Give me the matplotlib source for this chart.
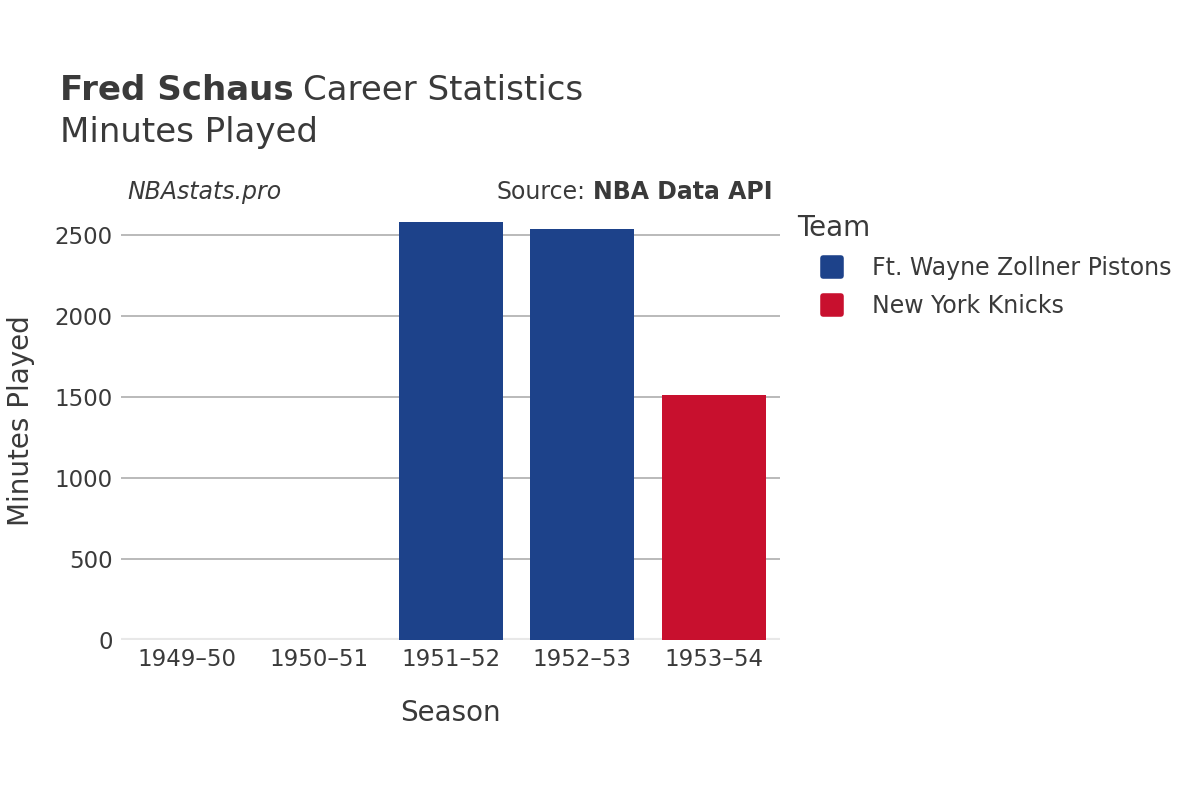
import matplotlib
matplotlib.use("Agg")
from matplotlib import pyplot as plt
from matplotlib.lines import Line2D
from matplotlib.markers import MarkerStyle
import numpy as np

seasons = ['1949–50', '1950–51', '1951–52', '1952–53', '1953–54']
minutes = [0, 0, 2578, 2537, 1512]
teams = [None, None, 'Ft. Wayne Zollner Pistons', 'Ft. Wayne Zollner Pistons', 'New York Knicks']
team_names = ['Ft. Wayne Zollner Pistons', 'New York Knicks']
team_colors = {'Ft. Wayne Zollner Pistons': '#1d428a', 'New York Knicks': '#c8102e'}
y_ticks = [0, 500, 1000, 1500, 2000, 2500]

txt = '#3a3a3a'
plt.rcParams['font.family'] = ['DejaVu Sans']

fig = plt.figure(figsize=(12, 8), dpi=100)
ax = fig.add_axes([0.101, 0.2, 0.549, 0.549])

x = np.arange(len(seasons))
for i in range(len(seasons)):
    if teams[i] is None:
        continue
    ax.bar(x[i], minutes[i], width=0.79, color=team_colors[teams[i]], zorder=3)

ax.set_xlim(-0.5, len(seasons) - 0.5)
ax.set_ylim(0, 2710)
ax.set_yticks(y_ticks)
ax.set_xticks(x)
ax.set_xticklabels(seasons)
ax.tick_params(axis='both', length=0, labelsize=16.5, colors=txt, pad=6)
ax.grid(axis='y', color='#b4b4b4', linewidth=1.3, zorder=0)
ax.axhline(0, color='#e8e8e8', linewidth=3, zorder=2)
for s in ax.spines.values():
    s.set_visible(False)

ax.set_xlabel('Season', fontsize=20, color=txt, labelpad=20)
ax.set_ylabel('Minutes Played', fontsize=20, color=txt, labelpad=14)

fig.canvas.draw()
r = fig.canvas.get_renderer()
inv = fig.transFigure.inverted()


def after(t, gap_px):
    bb = t.get_window_extent(r)
    return inv.transform((bb.x1 + gap_px, 0))[0]


t1 = fig.text(0.05, 0.875, 'Fred Schaus', fontsize=24.5, fontweight='bold', color=txt, va='baseline')
fig.text(after(t1, 9), 0.875, 'Career Statistics', fontsize=24.5, color=txt, va='baseline')
fig.text(0.05, 0.822, 'Minutes Played', fontsize=24.5, color=txt, va='baseline')

fig.text(0.106, 0.76, 'NBAstats.pro', fontsize=17, style='italic', color=txt, va='center')
t2 = fig.text(0.414, 0.76, 'Source:', fontsize=17, color=txt, va='center')
fig.text(after(t2, 7), 0.76, 'NBA Data API', fontsize=17, fontweight='bold', color=txt, va='center')

mk = MarkerStyle('s', joinstyle='round')
handles = [Line2D([0], [0], marker=mk, linestyle='', markersize=13, markeredgewidth=4,
                  markerfacecolor=team_colors[t], markeredgecolor=team_colors[t]) for t in team_names]
leg = fig.legend(handles, team_names, title='Team', loc='upper left',
                 bbox_to_anchor=(0.664, 0.733), frameon=False, fontsize=17,
                 title_fontsize=20, labelcolor=txt, handlelength=3.0, handletextpad=0.2,
                 labelspacing=0.6, borderaxespad=0, borderpad=0)
leg.get_title().set_color(txt)
leg._legend_box.align = 'left'

fig.savefig('out.png', dpi=100)
